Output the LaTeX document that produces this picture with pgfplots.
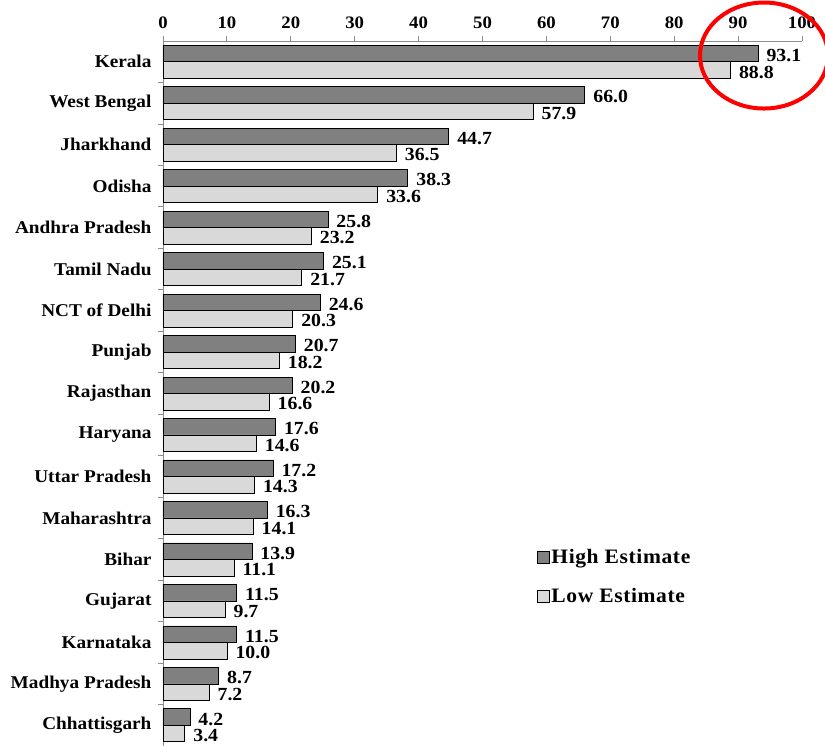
\documentclass[border=0pt]{standalone}
\usepackage{fontspec}
\setmainfont{Liberation Serif}[FakeStretch=1.07]
\newfontfamily\legfont{Liberation Serif}[FakeStretch=1.05, LetterSpace=3]
\usepackage{pgfplots}
\pgfplotsset{compat=1.18}
\definecolor{darkbar}{RGB}{128,128,128}
\definecolor{lightbar}{RGB}{217,217,217}
\definecolor{axgray}{RGB}{140,140,140}
\newcommand{\lbl}{\fontsize{18}{21}\selectfont\bfseries}
\newcommand{\tlbl}{\fontsize{17.5}{20}\selectfont\bfseries}
\newcommand{\vlbl}{\fontsize{18.5}{21}\selectfont\bfseries}
\newcommand{\llbl}{\fontsize{20.5}{23}\selectfont\legfont\bfseries}
\begin{document}
\begin{tikzpicture}
\begin{axis}[
  at={(0pt,0pt)}, anchor=north west,
  scale only axis,
  width=639pt, height=705pt,
  xmin=0, xmax=100,
  ymin=-0.5, ymax=16.5,
  axis x line*=top, axis y line*=left,
  axis line style={axgray, line width=0.8pt},
  xtick={0,10,...,100},
  tick align=outside,
  major tick length=5pt,
  minor tick length=5pt,
  every tick/.style={axgray, line width=0.8pt},
  ytick={0,...,16},
  major y tick style={draw=none},
  minor ytick={-0.5,0.5,...,15.5},
  yticklabels={Chhattisgarh,Madhya Pradesh,Karnataka,Gujarat,Bihar,Maharashtra,Uttar Pradesh,Haryana,Rajasthan,Punjab,NCT of Delhi,Tamil Nadu,Andhra Pradesh,Odisha,Jharkhand,West Bengal,Kerala},
  xticklabel style={font=\tlbl, text=black, yshift=4pt},
  yticklabel style={font=\lbl, text=black, xshift=-3pt},
  /pgf/number format/assume math mode=true,
  xbar, bar width=16.5pt,
  nodes near coords,
  nodes near coords style={font=\vlbl, text=black, anchor=west, xshift=5pt, yshift=-2pt,
     /pgf/number format/.cd, fixed, zerofill, precision=1, assume math mode=true},
  legend style={draw=none, fill=none, font=\llbl, at={(0.58,0.285)}, anchor=north west, row sep=19pt,
     /tikz/every even column/.append style={column sep=2pt}},
  legend cell align=left,
  legend image code/.code={\draw[#1, line width=0.6pt] (0pt,-6pt) rectangle (12pt,6pt);},
  clip=false,
]
\addplot[fill=darkbar, draw=black, line width=0.6pt, bar shift=8.25pt] coordinates {
(4.2,0) (8.7,1) (11.5,2) (11.5,3) (13.9,4) (16.3,5) (17.2,6) (17.6,7) (20.2,8) (20.7,9) (24.6,10) (25.1,11) (25.8,12) (38.3,13) (44.7,14) (66.0,15) (93.1,16)};
\addlegendentry{High Estimate}
\addplot[fill=lightbar, draw=black, line width=0.6pt, bar shift=-8.25pt] coordinates {
(3.4,0) (7.2,1) (10.0,2) (9.7,3) (11.1,4) (14.1,5) (14.3,6) (14.6,7) (16.6,8) (18.2,9) (20.3,10) (21.7,11) (23.2,12) (33.6,13) (36.5,14) (57.9,15) (88.8,16)};
\addlegendentry{Low Estimate}
\draw[red, line width=4pt] (axis cs:94.05,16.15) ellipse [x radius=64pt, y radius=53pt];
\end{axis}
\pgfresetboundingbox
\path (-163pt,41pt) rectangle (662pt,-704pt);
\end{tikzpicture}
\end{document}
